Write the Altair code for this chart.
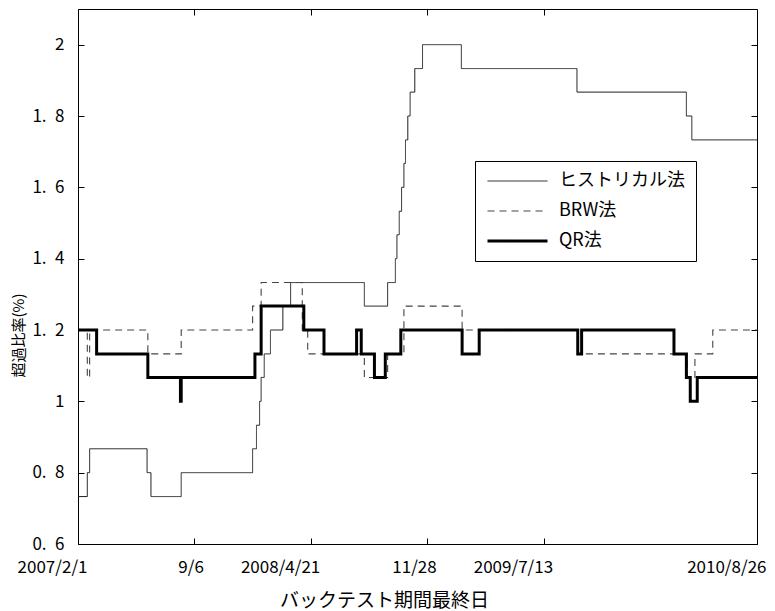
import altair as alt
import pandas as pd

# Exceedance ratio (%) of each VaR method, as step series.
# Each list gives the observation index where a new level starts and that level.
hist_idx = [0, 12, 15, 89, 94, 133, 225, 230, 234, 236, 240, 248, 264, 274,
            369, 399, 409, 411, 414, 417, 420, 422, 425, 428, 434, 444, 494,
            643, 784, 791]
hist_val = [0.733, 0.8, 0.867, 0.8, 0.733, 0.8, 0.867, 0.933, 1.0, 1.067,
            1.133, 1.2, 1.267, 1.333, 1.267, 1.333, 1.4, 1.467, 1.533, 1.6,
            1.667, 1.733, 1.8, 1.867, 1.933, 2.0, 1.933, 1.867, 1.8, 1.733]

brw_idx = [0, 12, 15, 90, 133, 225, 236, 289, 296, 369, 399, 420, 495, 644,
           785, 795, 818]
brw_val = [1.2, 1.067, 1.2, 1.133, 1.2, 1.267, 1.333, 1.2, 1.133, 1.067,
           1.133, 1.267, 1.2, 1.133, 1.067, 1.133, 1.2]

qr_idx = [0, 24, 90, 132, 133, 228, 236, 291, 317, 359, 365, 382, 396, 416,
          495, 517, 644, 649, 768, 784, 789, 798]
qr_val = [1.2, 1.133, 1.067, 1.0, 1.067, 1.133, 1.267, 1.2, 1.133, 1.2, 1.133,
          1.067, 1.133, 1.2, 1.133, 1.2, 1.133, 1.2, 1.133, 1.067, 1.0, 1.067]

END_IDX = 875

series_names = ["ヒストリカル法", "BRW法", "QR法"]
series_colors = ["#1e1e1e", "#444444", "#000000"]
series_dash = [[1, 0], [7, 5], [1, 0]]
series_width = [1, 1.1, 3]

x_tick_idx = [0, 150, 300, 450, 600, 875]
x_tick_text = ["2007/2/1", "9/6", "2008/4/21", "11/28", "2009/7/13", "2010/8/26"]
y_ticks = [0.6, 0.8, 1.0, 1.2, 1.4, 1.6, 1.8, 2.0]

rows = []
for name, idx, val in zip(series_names, [hist_idx, brw_idx, qr_idx],
                          [hist_val, brw_val, qr_val]):
    for i, v in zip(idx, val):
        rows.append({"series": name, "idx": i, "val": v})
    rows.append({"series": name, "idx": END_IDX, "val": val[-1]})
df = pd.DataFrame(rows)

x_label_expr = " : ".join(
    f"datum.value == {k} ? '{t}'" for k, t in zip(x_tick_idx, x_tick_text)
) + " : ''"
# decimal labels are written with a gap after the point, e.g. "1.\u20028"
y_label_expr = ("datum.value == 1 ? '1' : datum.value == 2 ? '2' : "
                "replace(format(datum.value, '.1f'), '.', '.\u2002')")

FONT = "Noto Sans CJK JP"
INWARD = {"expr": "-6"}

x_scale = alt.Scale(domain=[0, END_IDX], nice=False, zero=False)
y_scale = alt.Scale(domain=[0.6, 2.1], nice=False, zero=False)

bottom_axis = alt.Axis(
    values=x_tick_idx, labelExpr=x_label_expr, tickSize=INWARD,
    tickColor="black", domainColor="black", labelColor="black",
    labelFont=FONT, labelFontSize=17, labelAlign="right", labelOffset=9,
    labelPadding=21, labelFlush=False, labelOverlap=False, grid=False,
    title="バックテスト期間最終日", titleFont=FONT, titleFontSize=19,
    titleFontWeight="normal", titleColor="black", titleX=306, titleY=47,
    titleAlign="center", titleBaseline="top",
)
left_axis = alt.Axis(
    values=y_ticks, labelExpr=y_label_expr, tickSize=INWARD,
    tickColor="black", domainColor="black", labelColor="black",
    labelFont=FONT, labelFontSize=17, labelPadding=20, labelFlush=False,
    labelOverlap=False, grid=False,
    title="超過比率(%)", titleFont=FONT, titleFontSize=15,
    titleFontWeight="normal", titleColor="black", titleX=-60, titleY=326,
    titleAlign="center", titleBaseline="middle", titleAngle=270,
)
top_axis = alt.Axis(
    orient="top", values=x_tick_idx[:-1], labels=False, tickSize=INWARD,
    tickColor="black", domainColor="black", grid=False, title=None,
)
right_axis = alt.Axis(
    orient="right", values=y_ticks, labels=False, tickSize=INWARD,
    tickColor="black", domainColor="black", grid=False, title=None,
)

legend = alt.Legend(
    title=None, orient="none", legendX=397, legendY=152,
    strokeColor="black", fillColor="white", padding=11,
    symbolType="stroke", symbolSize=3600, clipHeight=18, rowPadding=12,
    labelOffset=10, labelFont=FONT, labelFontSize=18, labelColor="black",
)

lines = alt.Chart(df).mark_line(interpolate="step-after").encode(
    x=alt.X("idx:Q", scale=x_scale, axis=bottom_axis),
    y=alt.Y("val:Q", scale=y_scale, axis=left_axis),
    color=alt.Color("series:N", legend=legend,
                    scale=alt.Scale(type="ordinal", domain=series_names,
                                    range=series_colors)),
    strokeDash=alt.StrokeDash("series:N", legend=legend,
                              scale=alt.Scale(type="ordinal", domain=series_names,
                                              range=series_dash)),
    strokeWidth=alt.StrokeWidth("series:N", legend=legend,
                                scale=alt.Scale(type="ordinal", domain=series_names,
                                                range=series_width)),
)

frame = alt.Chart(df).mark_point(opacity=0).encode(
    x=alt.X("idx:Q", scale=x_scale, axis=top_axis),
    y=alt.Y("val:Q", scale=y_scale, axis=right_axis),
)

chart = alt.layer(lines, frame).resolve_axis(
    x="independent", y="independent"
).properties(
    width=679, height=535,
    autosize=alt.AutoSizeParams(type="none"),
    padding={"left": 78, "top": 9, "right": 18, "bottom": 67},
    background="white",
).configure_view(strokeWidth=0)

chart.save("out.html", embed_options={"renderer": "svg", "actions": False})
